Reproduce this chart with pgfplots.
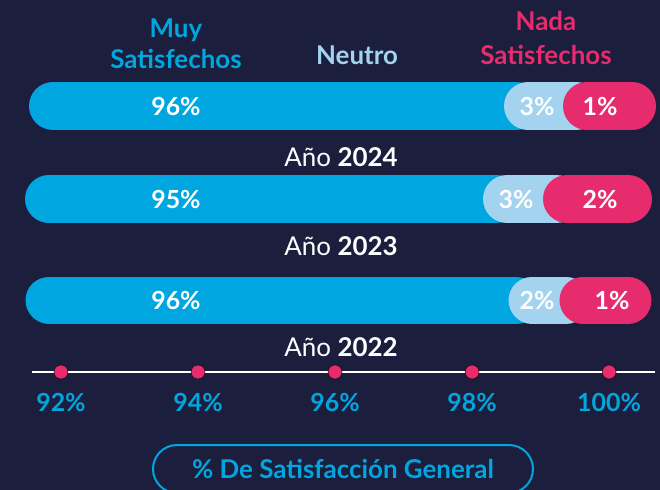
\documentclass[border=0pt]{standalone}
\usepackage{fontspec}
\setmainfont{Lato}
\usepackage{pgfplots}
\pgfplotsset{compat=1.18}
\definecolor{bg}{HTML}{1C1E3E}
\definecolor{muy}{HTML}{00A6DF}
\definecolor{neutro}{HTML}{A3D3EE}
\definecolor{nada}{HTML}{E72C6D}
\tikzset{lbl/.style={font=\bfseries\fontsize{25}{29}\selectfont, text=white},
         yr/.style={font=\fontsize{26}{30}\selectfont, text=white}}

\begin{document}
\begin{tikzpicture}
\path[use as bounding box, fill=bg] (0,0) rectangle (660bp,490bp);
% canvas axis, one unit = one pixel of the reference, y downwards
\begin{axis}[at={(0,0)}, anchor=south west, scale only axis,
    width=660bp, height=490bp, xmin=0, xmax=660, ymin=0, ymax=490,
    y dir=reverse, hide axis, clip=false]
% legend
\node[font=\bfseries\fontsize{26}{31}\selectfont, text=muy, align=center] at (axis cs:176,44) {Muy\\Satisfechos};
\node[font=\bfseries\fontsize{26}{30}\selectfont, text=neutro] at (axis cs:357,55) {Neutro};
\node[font=\bfseries\fontsize{26}{35}\selectfont, text=nada, align=center] at (axis cs:546,38) {Nada\\Satisfechos};

% 2024: 96 / 3 / 1
\addplot[muy, line width=48bp, line cap=round] coordinates {(53,106)(516,106)};
\addplot[neutro, line width=48bp, line cap=round] coordinates {(528,106)(576,106)};
\addplot[nada, line width=48bp, line cap=round] coordinates {(587,106)(632,106)};
\node[lbl] at (axis cs:176,107) {96\%};
\node[lbl] at (axis cs:537,107) {3\%};
\node[lbl] at (axis cs:600,107) {1\%};
\node[yr] at (axis cs:341,157) {Año \textbf{2024}};

% 2023: 95 / 3 / 2
\addplot[muy, line width=48bp, line cap=round] coordinates {(49,199)(496,199)};
\addplot[neutro, line width=48bp, line cap=round] coordinates {(507,199)(556,199)};
\addplot[nada, line width=48bp, line cap=round] coordinates {(567,199)(628,199)};
\node[lbl] at (axis cs:176,200) {95\%};
\node[lbl] at (axis cs:516,200) {3\%};
\node[lbl] at (axis cs:600,200) {2\%};
\node[yr] at (axis cs:341,246) {Año \textbf{2023}};

% 2022: 96 / 2 / 1
\addplot[muy, line width=47bp, line cap=round] coordinates {(49,300)(516,300)};
\addplot[neutro, line width=47bp, line cap=round] coordinates {(532,300)(566,300)};
\addplot[nada, line width=47bp, line cap=round] coordinates {(583,300)(628,300)};
\node[lbl] at (axis cs:176,301) {96\%};
\node[lbl] at (axis cs:537,301) {2\%};
\node[lbl] at (axis cs:612,301) {1\%};
\node[yr] at (axis cs:341,347) {Año \textbf{2022}};

% button
\node[draw=muy, line width=2bp, rounded corners=24bp, minimum width=380bp,
      minimum height=48bp, text=muy, font=\bfseries\fontsize{26}{30}\selectfont]
      at (axis cs:343,469) {\% De Satisfacción General};
\end{axis}

% satisfaction scale
\begin{axis}[at={(32bp,118bp)}, anchor=west, scale only axis,
    width=623bp, height=20bp, xmin=91.577, xmax=100.67, ymin=-1, ymax=1,
    axis x line=middle, axis y line=none, axis line style={draw=none},
    xtick={92,94,96,98,100}, xticklabels={92\%,94\%,96\%,98\%,100\%},
    major tick length=0, clip=false,
    xticklabel style={font=\bfseries\fontsize{25}{29}\selectfont, text=muy,
        anchor=center, yshift=-31bp}]
\addplot[white, line width=2bp] coordinates {(91.577,0)(100.67,0)};
\addplot[only marks, mark=*, mark size=7bp, mark options={draw=none, fill=nada}]
    coordinates {(92,0)(94,0)(96,0)(98,0)(100,0)};
\end{axis}
\end{tikzpicture}
\end{document}
